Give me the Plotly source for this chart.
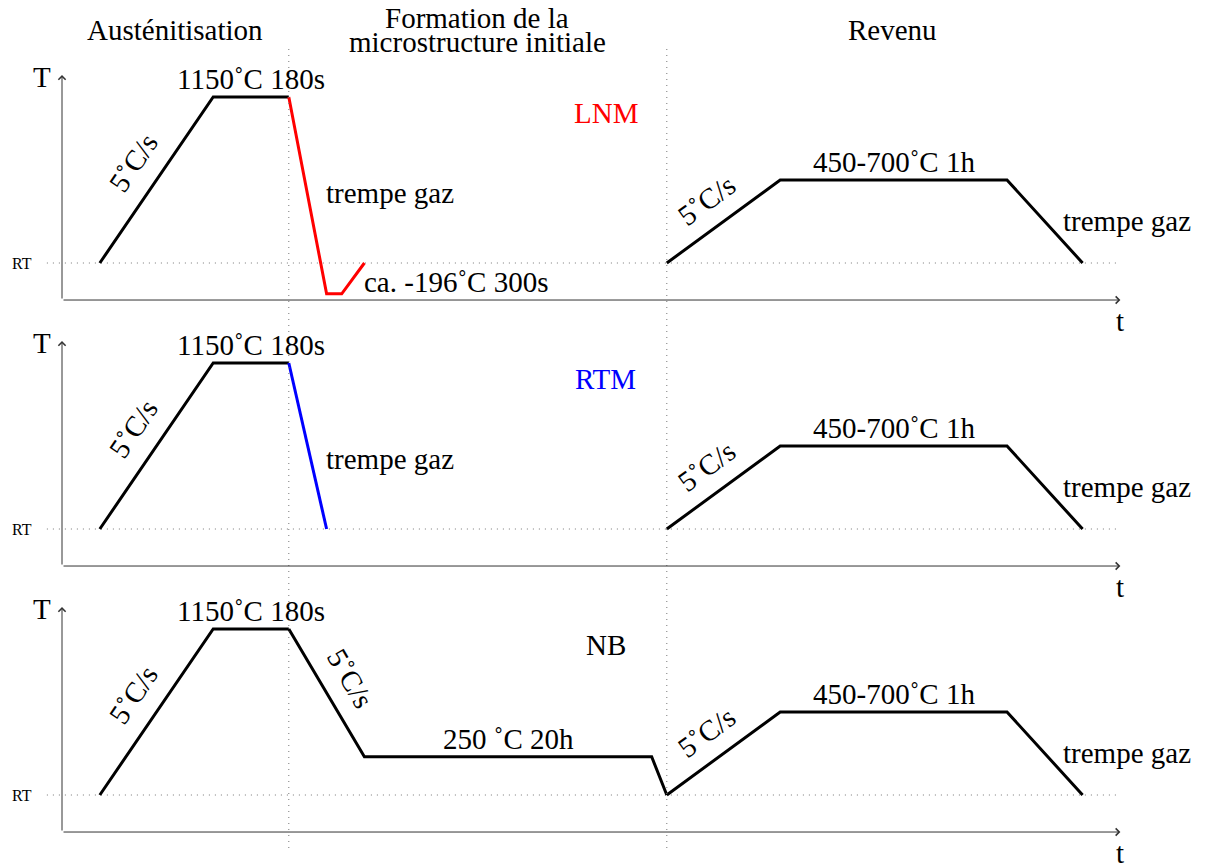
import plotly.graph_objects as go

# schematic time (arbitrary units) and temperature (degC)
t_aust = [1, 4, 6]
T_aust = [20, 1150, 1150]

t_lnm = [6, 7, 7.4, 8]
T_lnm = [1150, -190, -190, 20]

t_rtm = [6, 7]
T_rtm = [1150, 20]

t_nb = [6, 8, 15.6, 16]
T_nb = [1150, 280, 280, 20]

t_rev = [16, 19, 25, 27]
T_rev = [20, 585, 585, 20]

T_RT = 20
T_axis_min, T_axis_max = -232, 1300
t_axis_max = 28
t_split = [6, 16]

panels = ["LNM", "RTM", "NB"]
panel_colors = ["#ff0000", "#0000ff", "black"]

W, H = 1208, 863
px_t = 37.8            # px per time unit
x0 = 62                # px of t=0
px_T = 166 / 1130      # px per degC
rt_px = [263, 529, 795]
dom_px = [(0, 333), (333, 599), (599, 863)]

FONT = "Liberation Serif"
FS = 29

fig = go.Figure()
layout = dict(width=W, height=H, margin=dict(l=0, r=0, t=0, b=0),
              plot_bgcolor="white", paper_bgcolor="white", showlegend=False,
              font=dict(family=FONT, size=FS, color="black"))

annotations = []
shapes = []

for i in range(3):
    sfx = "" if i == 0 else str(i + 1)
    xa, ya = "x" + sfx, "y" + sfx
    top, bot = dom_px[i]
    layout["xaxis" + sfx] = dict(range=[-x0 / px_t, (W - x0) / px_t], domain=[0, 1],
                                 anchor=ya, visible=False, fixedrange=True)
    layout["yaxis" + sfx] = dict(range=[T_RT + (rt_px[i] - bot) / px_T, T_RT + (rt_px[i] - top) / px_T],
                                 domain=[1 - bot / H, 1 - top / H], anchor=xa,
                                 visible=False, fixedrange=True)

    # RT dotted line
    fig.add_trace(go.Scatter(x=[-0.4, t_axis_max], y=[T_RT, T_RT], mode="lines",
                             line=dict(color="#777", width=1, dash="1px,5px"),
                             xaxis=xa, yaxis=ya, hoverinfo="skip"))

    # austenitisation
    fig.add_trace(go.Scatter(x=t_aust, y=T_aust, mode="lines",
                             line=dict(color="black", width=3), xaxis=xa, yaxis=ya))
    # quench / initial microstructure
    tq, Tq = [(t_lnm, T_lnm), (t_rtm, T_rtm), (t_nb, T_nb)][i]
    fig.add_trace(go.Scatter(x=tq, y=Tq, mode="lines",
                             line=dict(color=panel_colors[i], width=3), xaxis=xa, yaxis=ya))
    # tempering
    fig.add_trace(go.Scatter(x=t_rev, y=T_rev, mode="lines",
                             line=dict(color="black", width=3), xaxis=xa, yaxis=ya))

    # axes with arrow tips
    annotations.append(dict(x=t_axis_max, y=T_axis_min, ax=0, ay=T_axis_min, xref=xa, yref=ya,
                            axref=xa, ayref=ya, showarrow=True, arrowhead=4, arrowsize=1.4,
                            arrowwidth=1, arrowcolor="#333", text=""))
    annotations.append(dict(x=0, y=T_axis_max, ax=0, ay=T_axis_min, xref=xa, yref=ya,
                            axref=xa, ayref=ya, showarrow=True, arrowhead=4, arrowsize=1.4,
                            arrowwidth=1, arrowcolor="#333", text=""))

    def lab(text, x, y, **kw):
        d = dict(text=text, x=x, y=y, xref=xa, yref=ya, showarrow=False,
                 xanchor="center", yanchor="middle")
        d.update(kw)
        annotations.append(d)

    lab("T", -0.53, 1286)
    lab("t", 28.0, -375)
    lab("RT", -1.06, 20, font=dict(size=16))
    lab("1150˚C 180s", 5.0, 1150, yanchor="bottom", yshift=0)
    lab("5˚C/s", 1.88, 701, textangle=-56)
    lab(panels[i], 14.39, 1041, font=dict(color=panel_colors[i], size=FS))
    lab("5˚C/s", 17.06, 449, textangle=-36.5)
    lab("450-700˚C 1h", 22.0, 585, yanchor="bottom", yshift=0)
    lab("trempe gaz", 28.17, 306)
    if i < 2:
        lab("trempe gaz", 8.68, 497)
    if i == 0:
        lab("ca. -196˚C 300s", 10.42, -109)
    if i == 2:
        lab("5˚C/s", 7.62, 816, textangle=60)
        lab("250 ˚C 20h", 11.8, 280, yanchor="bottom", yshift=0)

# section separators
for ts in t_split:
    shapes.append(dict(type="line", xref="x", yref="paper", x0=ts, x1=ts,
                       y0=1 - 848 / H, y1=1 - 47 / H,
                       line=dict(color="#777", width=1, dash="1px,5px")))

# section titles
for text, tx, py in [("Austénitisation", 2.99, 30), ("Formation de la", 10.98, 18),
                     ("microstructure initiale", 10.98, 42), ("Revenu", 21.98, 30)]:
    annotations.append(dict(text=text, x=tx, y=1 - py / H, xref="x", yref="paper",
                            showarrow=False, xanchor="center", yanchor="middle"))

layout["annotations"] = annotations
layout["shapes"] = shapes
fig.update_layout(**layout)
fig.write_html("out.html", config={"displayModeBar": False},
               post_script="document.body.style.margin='0';")
